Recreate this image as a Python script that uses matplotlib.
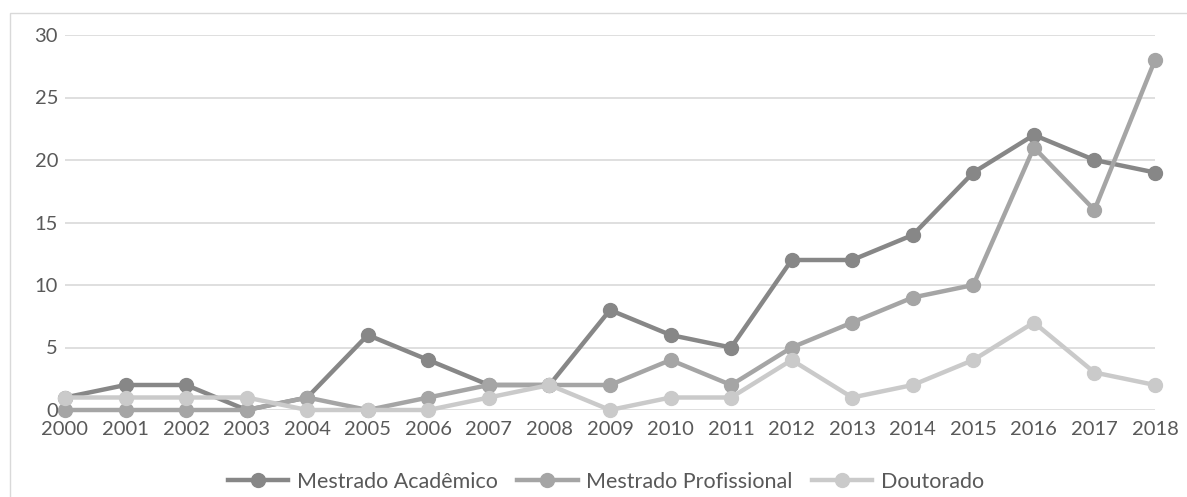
import matplotlib
matplotlib.use("Agg")
import matplotlib.pyplot as plt
from matplotlib.patches import Rectangle

plt.rcParams['font.family'] = ['Lato', 'DejaVu Sans']

years = list(range(2000, 2019))
mestrado_academico = [1, 2, 2, 0, 1, 6, 4, 2, 2, 8, 6, 5, 12, 12, 14, 19, 22, 20, 19]
mestrado_profissional = [0, 0, 0, 0, 1, 0, 1, 2, 2, 2, 4, 2, 5, 7, 9, 10, 21, 16, 28]
doutorado = [1, 1, 1, 1, 0, 0, 0, 1, 2, 0, 1, 1, 4, 1, 2, 4, 7, 3, 2]
series_names = ["Mestrado Acadêmico", "Mestrado Profissional", "Doutorado"]
colors = ["#878787", "#a5a5a5", "#cacaca"]
yticks = [0, 5, 10, 15, 20, 25, 30]

W, H = 1187, 497
fig = plt.figure(figsize=(W / 100, H / 100), dpi=100)
fig.patches.append(Rectangle((10 / W, -0.1), 1.2, 1 - 13 / H + 0.1, transform=fig.transFigure,
                             fill=False, edgecolor="#d9d9d9", linewidth=1.0))

ax = fig.add_axes([65 / W, 1 - 410 / H, (1155 - 65) / W, (410 - 35) / H])
for vals, name, c in zip([mestrado_academico, mestrado_profissional, doutorado], series_names, colors):
    ax.plot(years, vals, color=c, linewidth=3.2, marker='o', markersize=10,
            markerfacecolor=c, markeredgecolor=c, label=name, clip_on=False, zorder=3)

ax.set_xlim(2000, 2018)
ax.set_ylim(0, 30)
ax.set_yticks(yticks)
ax.set_xticks(years)
ax.set_xticklabels([str(y) for y in years])
ax.grid(axis='y', color="#d9d9d9", linewidth=1.2)
ax.set_axisbelow(True)
for s in ax.spines.values():
    s.set_visible(False)
ax.tick_params(axis='both', length=0, labelsize=14.5, colors="#595959")
ax.tick_params(axis='y', pad=5)
ax.tick_params(axis='x', pad=8)

fig.legend(loc='center', bbox_to_anchor=(606 / W, 1 - 482 / H), ncol=3, frameon=False,
           fontsize=15.5, labelcolor="#595959", handlelength=2.8, columnspacing=0.9,
           handletextpad=0.4)

fig.savefig("out.png", dpi=100)
